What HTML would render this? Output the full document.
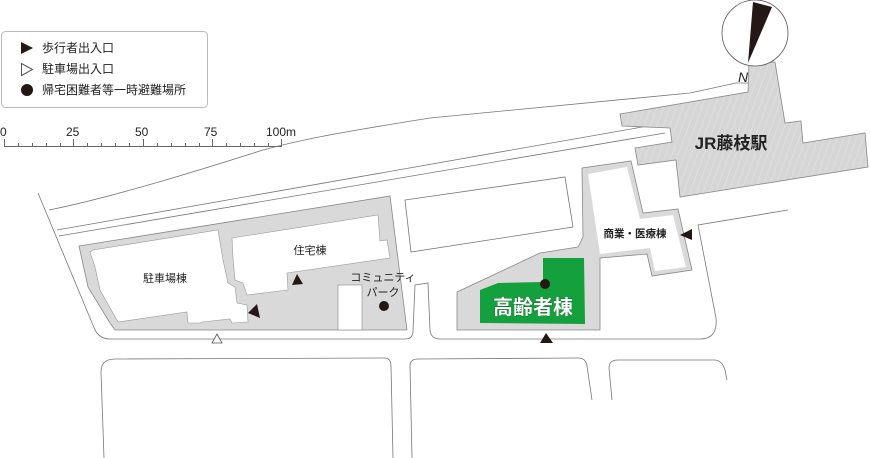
<!DOCTYPE html>
<html><head><meta charset="utf-8"><style>
html,body{margin:0;padding:0;background:#fff;width:870px;height:458px;overflow:hidden}
svg{display:block}
text{font-family:"Liberation Sans","Noto Sans CJK JP",sans-serif;fill:#222}
</style></head><body>
<svg width="870" height="458" viewBox="0 0 870 458" xmlns="http://www.w3.org/2000/svg">
<defs>
<pattern id="hatch" width="6" height="6" patternUnits="userSpaceOnUse" patternTransform="rotate(20)">
<rect width="6" height="6" fill="#d6d6d6"/><line x1="0" y1="0" x2="0" y2="6" stroke="#e6e6e6" stroke-width="1"/>
</pattern>
</defs>
<!-- legend -->
<rect x="1.5" y="31.5" width="206" height="76" rx="4" fill="#fff" stroke="#bbb"/>
<polygon points="21,42 21,54 33,48" fill="#231815"/>
<polygon points="21.5,63.5 21.5,75.5 32.5,69.5" fill="#fff" stroke="#555"/>
<circle cx="27" cy="90" r="6" fill="#231815"/>
<text x="42" y="52" font-size="12">歩行者出入口</text>
<text x="42" y="73" font-size="12">駐車場出入口</text>
<text x="42" y="94" font-size="12">帰宅困難者等一時避難場所</text>
<!-- scale -->
<g font-size="12">
<text x="0" y="136">0</text><text x="66" y="136">25</text><text x="135" y="136">50</text><text x="204" y="136">75</text><text x="266" y="136">100m</text>
</g>
<g stroke="#666" stroke-width="1">
<line x1="4" y1="146.5" x2="281" y2="146.5"/>
<line x1="4.5" y1="139" x2="4.5" y2="147"/><line x1="73.5" y1="139" x2="73.5" y2="147"/><line x1="143.5" y1="139" x2="143.5" y2="147"/><line x1="212.5" y1="139" x2="212.5" y2="147"/><line x1="281.5" y1="139" x2="281.5" y2="147"/>
<path d="M18.5 143v3M32.5 143v3M46.5 143v3M60.5 143v3M87.5 143v3M101.5 143v3M115.5 143v3M129.5 143v3M157.5 143v3M171.5 143v3M185.5 143v3M199.5 143v3M226.5 143v3M240.5 143v3M254.5 143v3M268.5 143v3"/>
</g>
<!-- rail lines -->
<g fill="none" stroke="#777" stroke-width="0.8">
<path d="M49 210 C 110 198, 200 170, 263 150 C 300 140, 330 134, 430 118 L 690 93 L 736 83 L 748 83"/>
<path d="M57 230 L 665 123"/>
<path d="M59 236 L 665 133"/>
<path d="M38 193 L 95 330 Q 100 339 110 339 L 405 339 Q 413 339 413 331 L 415 285 L 428 283 L 430 330 Q 431 339 440 339 L 700 339 Q 718 339 716 318 L 698 225 L 788 210"/>
<path d="M405 200 L 565 177 L 573 227 L 411 252 Z"/>
<path d="M104 458 L 101 372 Q 101 359 115 359 L 384 358 Q 391 358 391 366 L 393 458"/>
<path d="M412 458 L 410 366 Q 410 359 418 359 L 578 358 Q 586 358 587 366 L 592 400"/>
<path d="M612 400 L 609 368 Q 609 360 618 360 L 714 360 Q 722 360 725 370 L 727 380"/>
</g>
<!-- station -->
<polygon points="620,114 748,92 749,62 775,62 785,123 801,121 803,143 865,133 868,167 680,197 676,160 638,165 635,148 672,142 670,128 622,126" fill="url(#hatch)" stroke="#888" stroke-width="0.8"/>
<text x="731" y="149" font-size="17" font-weight="bold" text-anchor="middle">JR藤枝駅</text>
<!-- compass -->
<circle cx="755" cy="33" r="33" fill="#fff" stroke="#555" stroke-width="0.8"/>
<polygon points="748,63 753,2 772,7" fill="#231815"/>
<text x="738" y="82" font-size="14" font-style="italic">N</text>
<!-- left complex -->
<polygon points="79,246 390,196 407,330 115,330 110,323 88,287" fill="#d9d9d9" stroke="#888" stroke-width="0.8"/>
<polygon points="90,252 93,250 218,230 223,260 228,283 235,287 237,303 247,305 248,322 232,323 230,319 202,322 200,323 188,323 187,312 118,322 100,290 95,267" fill="#fff" stroke="#999" stroke-width="0.6"/>
<polygon points="232,238 378,215 380,241 387,240 390,258 287,273 288,290 247,295 243,283 235,280 233,258" fill="#fff" stroke="#999" stroke-width="0.6"/>
<rect x="338" y="285" width="24" height="45" fill="#fff" stroke="#888" stroke-width="0.6"/>
<text x="165" y="282" font-size="11" text-anchor="middle">駐車場棟</text>
<text x="310" y="254" font-size="11" text-anchor="middle">住宅棟</text>
<text x="383" y="281" font-size="11" text-anchor="middle">コミュニティ</text>
<text x="383" y="296" font-size="11" text-anchor="middle">パーク</text>
<circle cx="384" cy="306" r="5" fill="#231815"/>
<polygon points="292,285 303,284 297,274" fill="#231815"/>
<polygon points="248,313 260,318 257,304" fill="#231815"/>
<polygon points="212,343 222,343 217,334" fill="#fff" stroke="#555" stroke-width="0.8"/>
<!-- right complex -->
<polygon points="457,292 540,253 578,247 583,237 582,168 631,161 643,213 678,209 692,270 652,276 647,254 600,258 600,330 457,330" fill="#d9d9d9" stroke="#888" stroke-width="0.8"/>
<polygon points="588,174 627,167 640,219 673,215 686,267 655,271 650,248 600,254" fill="#fff"/>
<polygon points="480,290 498,283 543,282 543,258 584,258 585,324 480,323" fill="#14a03c"/>
<text x="533" y="314" font-size="20" font-weight="bold" text-anchor="middle" style="fill:#fff;stroke:#0b6a25;stroke-width:0.7px;paint-order:stroke">高齢者棟</text>
<circle cx="545" cy="284" r="5" fill="#231815"/>
<text x="635" y="237" font-size="10.5" font-weight="bold" text-anchor="middle">商業・医療棟</text>
<polygon points="680,235 692,229 692,240" fill="#231815"/>
<polygon points="540,343 553,343 546,333" fill="#231815"/>
</svg>
</body></html>
